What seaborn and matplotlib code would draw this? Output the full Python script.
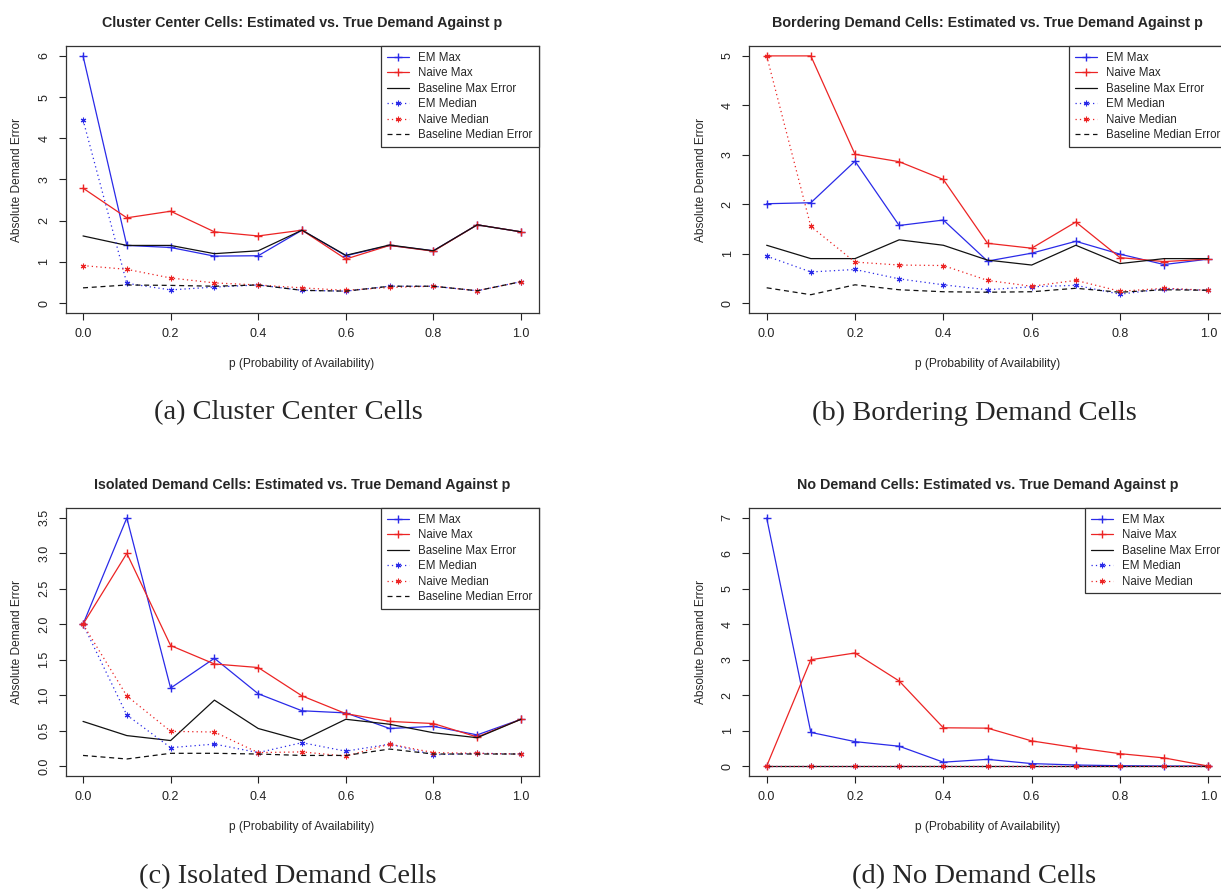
import matplotlib
matplotlib.use("Agg")
import matplotlib.pyplot as plt
import seaborn as sns
import pandas as pd

# ---------------- data ----------------
p_values = [0.0, 0.1, 0.2, 0.3, 0.4, 0.5, 0.6, 0.7, 0.8, 0.9, 1.0]

series_names = ["EM Max", "Naive Max", "Baseline Max Error",
                "EM Median", "Naive Median", "Baseline Median Error"]

# (a) Cluster Center Cells
cluster_em_max = [6.0, 1.40, 1.35, 1.14, 1.15, 1.77, 1.15, 1.40, 1.27, 1.90, 1.73]
cluster_naive_max = [2.79, 2.07, 2.23, 1.73, 1.63, 1.77, 1.07, 1.40, 1.26, 1.90, 1.73]
cluster_base_max = [1.63, 1.40, 1.40, 1.20, 1.27, 1.77, 1.16, 1.41, 1.27, 1.90, 1.73]
cluster_em_med = [4.45, 0.48, 0.32, 0.39, 0.44, 0.31, 0.29, 0.41, 0.41, 0.30, 0.52]
cluster_naive_med = [0.91, 0.82, 0.61, 0.49, 0.44, 0.37, 0.31, 0.38, 0.41, 0.30, 0.52]
cluster_base_med = [0.37, 0.44, 0.43, 0.41, 0.44, 0.31, 0.29, 0.41, 0.41, 0.30, 0.52]

# (b) Bordering Demand Cells
border_em_max = [2.01, 2.03, 2.87, 1.57, 1.68, 0.85, 1.01, 1.25, 0.99, 0.78, 0.89]
border_naive_max = [5.0, 5.0, 3.01, 2.86, 2.50, 1.21, 1.11, 1.64, 0.92, 0.84, 0.89]
border_base_max = [1.17, 0.90, 0.90, 1.28, 1.17, 0.87, 0.77, 1.17, 0.80, 0.90, 0.90]
border_em_med = [0.95, 0.63, 0.68, 0.49, 0.37, 0.27, 0.33, 0.36, 0.18, 0.29, 0.26]
border_naive_med = [5.0, 1.55, 0.83, 0.77, 0.76, 0.46, 0.34, 0.46, 0.24, 0.30, 0.26]
border_base_med = [0.31, 0.17, 0.37, 0.27, 0.23, 0.22, 0.23, 0.30, 0.22, 0.27, 0.26]

# (c) Isolated Demand Cells
isolated_em_max = [2.0, 3.5, 1.10, 1.52, 1.02, 0.78, 0.75, 0.53, 0.56, 0.44, 0.66]
isolated_naive_max = [2.0, 3.0, 1.70, 1.44, 1.39, 0.99, 0.74, 0.63, 0.60, 0.41, 0.66]
isolated_base_max = [0.63, 0.43, 0.36, 0.93, 0.53, 0.36, 0.66, 0.59, 0.47, 0.40, 0.66]
isolated_em_med = [2.0, 0.72, 0.26, 0.31, 0.19, 0.33, 0.21, 0.31, 0.16, 0.18, 0.17]
isolated_naive_med = [2.0, 0.99, 0.49, 0.48, 0.19, 0.20, 0.14, 0.31, 0.19, 0.18, 0.17]
isolated_base_med = [0.15, 0.10, 0.18, 0.18, 0.17, 0.15, 0.15, 0.24, 0.17, 0.17, 0.17]

# (d) No Demand Cells
none_em_max = [7.0, 0.95, 0.69, 0.56, 0.11, 0.19, 0.07, 0.03, 0.01, 0.0, 0.0]
none_naive_max = [0.0, 3.0, 3.19, 2.40, 1.08, 1.07, 0.71, 0.52, 0.35, 0.23, 0.0]
none_base_max = [0.0, 0.0, 0.0, 0.0, 0.0, 0.0, 0.0, 0.0, 0.0, 0.0, 0.0]
none_em_med = [0.0, 0.0, 0.0, 0.0, 0.0, 0.0, 0.0, 0.0, 0.0, 0.0, 0.0]
none_naive_med = [0.0, 0.0, 0.0, 0.0, 0.0, 0.0, 0.0, 0.0, 0.0, 0.0, 0.0]

titles = ["Cluster Center Cells: Estimated vs. True Demand Against p",
          "Bordering Demand Cells: Estimated vs. True Demand Against p",
          "Isolated Demand Cells: Estimated vs. True Demand Against p",
          "No Demand Cells: Estimated vs. True Demand Against p"]
captions = ["(a) Cluster Center Cells", "(b) Bordering Demand Cells",
            "(c) Isolated Demand Cells", "(d) No Demand Cells"]
x_ticks = [0.0, 0.2, 0.4, 0.6, 0.8, 1.0]
x_tick_labels = ["0.0", "0.2", "0.4", "0.6", "0.8", "1.0"]
y_ticks_list = [[0, 1, 2, 3, 4, 5, 6],
                [0, 1, 2, 3, 4, 5],
                [0.0, 0.5, 1.0, 1.5, 2.0, 2.5, 3.0, 3.5],
                [0, 1, 2, 3, 4, 5, 6, 7]]
y_tick_labels_list = [["0", "1", "2", "3", "4", "5", "6"],
                      ["0", "1", "2", "3", "4", "5"],
                      ["0.0", "0.5", "1.0", "1.5", "2.0", "2.5", "3.0", "3.5"],
                      ["0", "1", "2", "3", "4", "5", "6", "7"]]

panels = [
    [cluster_em_max, cluster_naive_max, cluster_base_max, cluster_em_med, cluster_naive_med, cluster_base_med],
    [border_em_max, border_naive_max, border_base_max, border_em_med, border_naive_med, border_base_med],
    [isolated_em_max, isolated_naive_max, isolated_base_max, isolated_em_med, isolated_naive_med, isolated_base_med],
    [none_em_max, none_naive_max, none_base_max, none_em_med, none_naive_med],
]

# ---------------- style ----------------
sns.set_style("ticks")
plt.rcParams["font.family"] = ["Liberation Sans", "DejaVu Sans"]

asterisk = (6, 2, 0)
blue = "#2a2ae8"
red = "#ec2424"
styles = {
    "EM Max": dict(color=blue, marker="+", linestyle="-", markersize=6, markeredgewidth=1.0),
    "Naive Max": dict(color=red, marker="+", linestyle="-", markersize=6, markeredgewidth=1.0),
    "Baseline Max Error": dict(color="#111111", marker=None, linestyle="-"),
    "EM Median": dict(color=blue, marker=asterisk, linestyle=(0, (1, 2.5)), markersize=4, markeredgewidth=0.8),
    "Naive Median": dict(color=red, marker=asterisk, linestyle=(0, (1, 2.5)), markersize=4, markeredgewidth=0.8),
    "Baseline Median Error": dict(color="#111111", marker=None, linestyle=(0, (4, 3))),
}

W, H = 1221, 890
fig = plt.figure(figsize=(W / 100, H / 100), dpi=100)

# pixel boxes: left, top, right, bottom
boxes = [(65.5, 46, 538.5, 313), (749, 46, 1226, 313),
         (65.5, 508, 538.5, 776), (749, 508, 1226, 776)]
caption_pos = [(288, 413), (974, 413), (288, 877), (974, 877)]

for i, (l, t, r, b) in enumerate(boxes):
    ax = fig.add_axes([l / W, 1 - b / H, (r - l) / W, (b - t) / H])
    data = panels[i]
    ymax = max(max(s) for s in data)
    for name, vals in zip(series_names, data):
        st = dict(styles[name])
        sns.lineplot(x=p_values, y=vals, ax=ax, label=name, linewidth=0.9,
                     markerfacecolor=st["color"], markeredgecolor=st["color"], **st)
    ax.set_xlim(-0.04, 1.04)
    ax.set_ylim(-0.04 * ymax, 1.04 * ymax)
    ax.set_xticks(x_ticks)
    ax.set_xticklabels(x_tick_labels)
    ax.set_yticks(y_ticks_list[i])
    ax.set_yticklabels(y_tick_labels_list[i], rotation=90, va="center")
    ax.tick_params(axis="both", direction="out", length=5, width=0.8, pad=6,
                   labelsize=9, colors="#222222")
    for sp in ax.spines.values():
        sp.set_visible(True)
        sp.set_linewidth(0.9)
        sp.set_color("#333333")
    ax.set_title(titles[i], fontsize=10.3, fontweight="bold", pad=14)
    ax.set_xlabel("p (Probability of Availability)", fontsize=8.6)
    ax.set_ylabel("Absolute Demand Error", fontsize=8.6)
    ax.xaxis.set_label_coords(0.5, -51 / (b - t))
    ax.yaxis.set_label_coords(-48 / (r - l), 0.5)
    ax.xaxis.label.set_va("center")
    ax.yaxis.label.set_va("center")
    leg = ax.legend(loc="upper right", bbox_to_anchor=(1, 1), borderaxespad=0,
                    frameon=True, fancybox=False, framealpha=1, edgecolor="#333333",
                    fontsize=8.3, handlelength=1.9, handletextpad=0.8,
                    labelspacing=0.3, borderpad=0.5)
    leg.get_frame().set_linewidth(0.9)
    cx, cy = caption_pos[i]
    fig.text(cx / W, 1 - cy / H, captions[i], ha="center", va="center",
             fontsize=20.5, family=["Liberation Serif", "DejaVu Serif"])

fig.savefig("out.png", dpi=100)
